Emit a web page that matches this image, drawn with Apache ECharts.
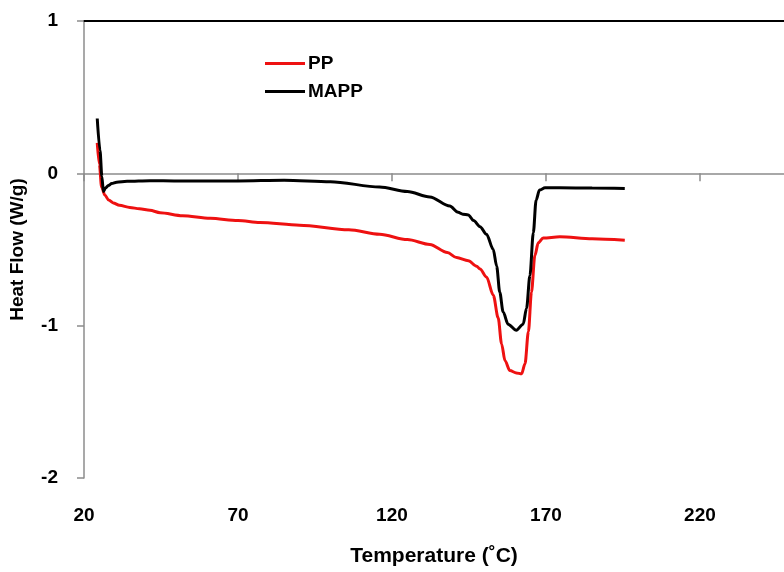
<!DOCTYPE html>
<html>
<head>
<meta charset="utf-8">
<script src="https://cdn.jsdelivr.net/npm/echarts@6/dist/echarts.min.js"></script>
<style>
html,body{margin:0;padding:0;background:#fff;}
#chart{width:784px;height:572px;}
</style>
</head>
<body>
<div id="chart"></div>
<script>
// Data
const seriesNames = ['PP', 'MAPP'];
const ppTemp = [24.3, 25.0, 25.7, 26.8, 28.0, 29.5, 31.5, 34.9, 38, 41.4, 44.7, 52, 61, 70, 77.1, 90, 106, 116, 125, 132.3, 138, 141, 144.8, 147.5, 148.6, 150.7, 152.9, 154.5, 155.6, 156.7, 158.3, 160.4, 162.1, 163.2, 164.3, 165.3, 166.4, 167.5, 169.1, 174.5, 185, 195.6];
const ppFlow = [0.20, 0.06, -0.09, -0.144, -0.175, -0.194, -0.21, -0.224, -0.233, -0.243, -0.258, -0.278, -0.295, -0.31, -0.323, -0.34, -0.37, -0.40, -0.435, -0.467, -0.52, -0.553, -0.574, -0.61, -0.628, -0.68, -0.80, -0.95, -1.12, -1.23, -1.295, -1.31, -1.316, -1.25, -1.04, -0.78, -0.54, -0.456, -0.424, -0.417, -0.43, -0.44];
const mappTemp = [24.3, 25.2, 25.8, 26.3, 27.0, 27.9, 29.0, 30.6, 34, 41.4, 50, 70, 85, 100, 116, 125, 132.3, 138.8, 141.5, 143, 144.8, 146.5, 148.6, 150.7, 152.9, 154, 155, 156.1, 157.7, 160.4, 162.6, 163.7, 164.8, 165.9, 166.8, 167.9, 169.7, 174.5, 185, 195.6];
const mappFlow = [0.36, 0.15, -0.02, -0.12, -0.095, -0.08, -0.067, -0.058, -0.052, -0.048, -0.05, -0.05, -0.045, -0.055, -0.09, -0.12, -0.155, -0.215, -0.256, -0.268, -0.273, -0.31, -0.35, -0.40, -0.50, -0.61, -0.78, -0.91, -0.99, -1.03, -0.99, -0.886, -0.67, -0.39, -0.176, -0.11, -0.095, -0.095, -0.097, -0.10];
const xTicks = [20, 70, 120, 170, 220];
const yTicks = [-2, -1, 0, 1];

const zip = (a, b) => a.map((v, i) => [v, b[i]]);
const FONT = '"Liberation Sans", Arial, sans-serif';

const chart = echarts.init(document.getElementById('chart'), null, {renderer: 'canvas'});
chart.setOption({
  animation: false,
  backgroundColor: '#fff',
  grid: {left: 84, right: 0, top: 21, bottom: 86, containLabel: false},
  legend: {
    orient: 'vertical', left: 265, top: 54, padding: 0,
    itemWidth: 40, itemHeight: 3, itemGap: 9, icon: 'rect',
    textStyle: {fontFamily: FONT, fontWeight: 'bold', fontSize: 19, color: '#000', padding: [0, 0, 0, -2]},
    data: seriesNames
  },
  xAxis: [{
    type: 'value', min: xTicks[0], max: 247.3, interval: 50,
    name: 'Temperature (˚C)', nameLocation: 'middle', nameGap: 68,
    nameTextStyle: {fontFamily: FONT, fontWeight: 'bold', fontSize: 21, color: '#000'},
    axisLine: {show: true, lineStyle: {color: '#8c8c8c', width: 1.5}},
    axisTick: {show: true, length: 8, lineStyle: {color: '#8c8c8c', width: 1.5}},
    axisLabel: {showMaxLabel: false, margin: 28, fontFamily: FONT, fontWeight: 'bold', fontSize: 19, color: '#000'},
    splitLine: {show: false}
  }, {
    type: 'value', position: 'top', min: xTicks[0], max: 247.3,
    axisLine: {show: true, lineStyle: {color: '#000', width: 2}},
    axisTick: {show: false}, axisLabel: {show: false}, splitLine: {show: false}
  }],
  yAxis: {
    type: 'value', min: yTicks[0], max: yTicks[yTicks.length - 1], interval: 1,
    name: 'Heat Flow (W/g)', nameLocation: 'middle', nameGap: 57, nameRotate: 90,
    nameTextStyle: {fontFamily: FONT, fontWeight: 'bold', fontSize: 19, color: '#000'},
    axisLine: {show: true, lineStyle: {color: '#8c8c8c', width: 1.5}},
    axisTick: {show: true, length: 7, lineStyle: {color: '#8c8c8c', width: 1.5}},
    axisLabel: {margin: 26, fontFamily: FONT, fontWeight: 'bold', fontSize: 19, color: '#000'},
    splitLine: {show: false}
  },
  series: [{
    name: seriesNames[0], type: 'line', data: zip(ppTemp, ppFlow),
    showSymbol: false, smooth: 0.3, smoothMonotone: 'x',
    lineStyle: {color: '#ee1111', width: 3}, itemStyle: {color: '#ee1111'}
  }, {
    name: seriesNames[1], type: 'line', data: zip(mappTemp, mappFlow),
    showSymbol: false, smooth: 0.3, smoothMonotone: 'x',
    lineStyle: {color: '#000', width: 3}, itemStyle: {color: '#000'}
  }]
});
</script>
</body>
</html>
